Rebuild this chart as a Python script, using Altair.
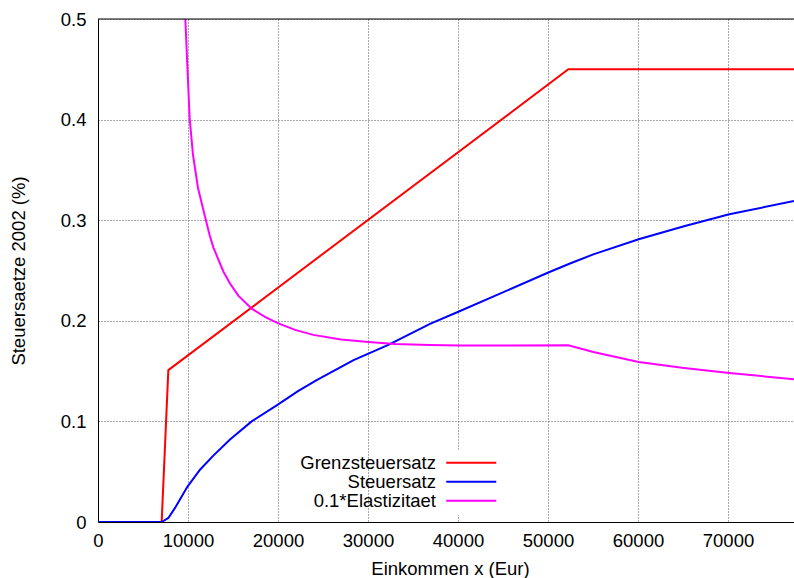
import altair as alt
import pandas as pd

names = ["Grenzsteuersatz", "Steuersatz", "0.1*Elastizitaet"]
colors = ["#ff0000", "#0000ff", "#ff00ff"]

red_x = [0, 7074, 7815, 52259, 77333]
red_y = [0.0, 0.0, 0.151, 0.450, 0.450]

blue_x = [0, 7074, 7815, 8556, 9926, 11333, 12815, 14667, 17074, 19852, 22222, 24296,
          28400, 32259, 36889, 40037, 44667, 50037, 52444, 55037, 60074, 65111, 70144, 77333]
blue_y = [0.0, 0.0, 0.004, 0.014, 0.035, 0.052, 0.066, 0.082, 0.100, 0.116, 0.130, 0.141,
          0.161, 0.176, 0.197, 0.209, 0.227, 0.248, 0.257, 0.266, 0.281, 0.294, 0.306, 0.319]

mag_x = [9704, 9926, 10185, 10556, 11111, 11852, 12407, 12815, 13926, 14667, 15593, 17074,
         18556, 20037, 21900, 23926, 27000, 30037, 33000, 36889, 40222, 52259, 55037, 60074,
         65111, 70144, 77333]
mag_y = [0.500, 0.454, 0.401, 0.365, 0.332, 0.305, 0.285, 0.273, 0.249, 0.237, 0.225, 0.212,
         0.204, 0.1975, 0.191, 0.186, 0.1815, 0.179, 0.177, 0.176, 0.1755, 0.1756, 0.169, 0.159,
         0.153, 0.148, 0.142]

x_ticks = [0, 10000, 20000, 30000, 40000, 50000, 60000, 70000]
y_ticks = [0, 0.1, 0.2, 0.3, 0.4, 0.5]
x_domain = [0, 77333]
y_domain = [0, 0.5]

FONT = "Liberation Sans"
FS = 18.5

def frame(xs, ys, name):
    return pd.DataFrame({"x": xs, "y": ys, "series": [name] * len(xs)})

color = alt.Color(
    "series:N",
    scale=alt.Scale(domain=names, range=colors),
    legend=alt.Legend(
        title=None, orient="none", legendX=360, legendY=430.5, direction="vertical",
        symbolType="M-5,0L5,0", symbolSize=100, symbolStrokeWidth=2,
        labelFont=FONT, labelFontSize=FS, labelColor="black",
        labelAlign="right", labelBaseline="middle", labelOffset={"expr": "-44.5"},
        rowPadding=0, padding=4, fillColor="#ffffff", strokeColor="#ffffff",
        zindex=1,
    ),
)

xenc = alt.X("x:Q", scale=alt.Scale(domain=x_domain, nice=False, zero=False),
             axis=alt.Axis(values=x_ticks, format="d", title="Einkommen x (Eur)",
                           titleX=352, titleY=46, titleBaseline="middle",
                           labelPadding=9, labelFlush=False))
yenc = alt.Y("y:Q", scale=alt.Scale(domain=y_domain, nice=False),
             axis=alt.Axis(values=y_ticks, format=".1~f", title="Steuersaetze 2002 (%)",
                           titleX=-80, titleY=251.5, titleAngle=270,
                           titleBaseline="middle", titleAlign="center",
                           labelPadding=12, labelFlush=False))

def line(df):
    return alt.Chart(df).mark_line(strokeWidth=2, clip=True).encode(
        x=xenc, y=yenc, color=color)

red = line(frame(red_x, red_y, names[0]))
blue = line(frame(blue_x, blue_y, names[1]))
mag = line(frame(mag_x, mag_y, names[2]))

top = alt.Chart(pd.DataFrame({"y": [y_domain[1]]})).mark_rule(
    color="black", strokeWidth=1).encode(y=alt.Y("y:Q"))

chart = alt.layer(red, blue, mag, top).properties(
    width=696, height=503,
    padding={"left": 98, "top": 19, "right": 0, "bottom": 56},
    autosize=alt.AutoSizeParams(type="none"),
).configure_view(stroke=None).configure_axis(
    labelFont=FONT, labelFontSize=FS, labelColor="black",
    titleFont=FONT, titleFontSize=FS, titleFontWeight="normal", titleColor="black",
    domainColor="black", domainWidth=1, tickSize=0,
    grid=True, gridColor="#555555", gridDash=[1, 2], gridWidth=1, gridOpacity=1,
)

chart.save("out.html", embed_options={"renderer": "svg", "actions": False})
